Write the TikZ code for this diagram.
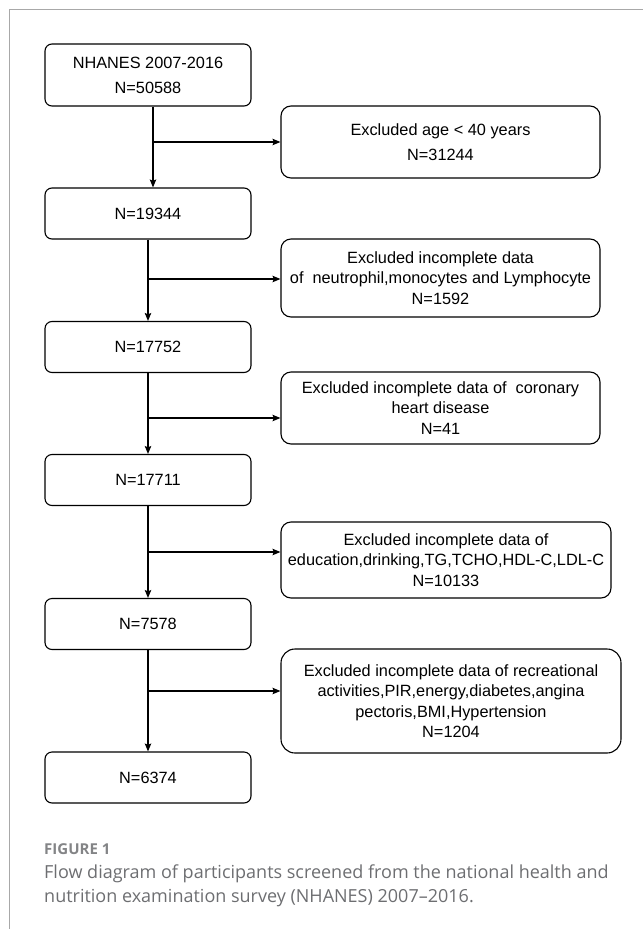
\documentclass[tikz,border=0pt]{standalone}
\usepackage{fontspec}
\setmainfont{Liberation Sans}
\newfontfamily\capfont{Open Sans}
\usetikzlibrary{arrows.meta}

\definecolor{capgray}{HTML}{6D6E71}
\definecolor{framegray}{HTML}{A8A8A8}

\begin{document}
\begin{tikzpicture}[x=1pt, y=1pt,
    box/.style={draw, line width=1.1pt, rounded corners=7pt, align=center, inner sep=0pt,
        font=\fontsize{16.3}{20.5}\selectfont},
    mainbox/.style={box, minimum width=206pt, minimum height=51pt},
    exclbox/.style={box, rounded corners=10pt},
    arrow/.style={-{Stealth[length=8pt, width=6.5pt, inset=1.5pt]}, line width=1.1pt}
]

    % Page size and frame
    \useasboundingbox (0,0) rectangle (643,-929);
    \draw[framegray, line width=1pt] (9,-929) -- (9,-9) -- (643,-9);

    % Main column
    \node[mainbox, minimum height=62pt, font=\fontsize{16.3}{25}\selectfont] (b0) at (148,-75) {NHANES 2007-2016\\N=50588};
    \node[mainbox] (b1) at (148,-213.5) {N=19344};
    \node[mainbox] (b2) at (148,-347) {N=17752};
    \node[mainbox] (b3) at (148,-480) {N=17711};
    \node[mainbox] (b4) at (148,-624) {N=7578};
    \node[mainbox] (b5) at (148,-777.5) {N=6374};

    % Exclusion boxes
    \node[exclbox, minimum width=319pt, minimum height=72pt, font=\fontsize{16.3}{25}\selectfont] (e1) at (440.5,-142)
        {Excluded age < 40 years\\N=31244};
    \node[exclbox, minimum width=319pt, minimum height=78pt] (e2) at (440.5,-278)
        {Excluded incomplete data\\of~ neutrophil,monocytes and Lymphocyte\\N=1592};
    \node[exclbox, minimum width=319pt, minimum height=72pt] (e3) at (440.5,-408)
        {Excluded incomplete data of~ coronary\\heart disease\\N=41};
    \node[exclbox, minimum width=330pt, minimum height=76pt] (e4) at (446,-560)
        {Excluded incomplete data of\\education,drinking,TG,TCHO,HDL-C,LDL-C\\N=10133};
    \node[exclbox, rounded corners=14pt, minimum width=340pt, minimum height=104pt] (e5) at (451,-701)
        {Excluded incomplete data of recreational\\activities,PIR,energy,diabetes,angina\\pectoris,BMI,Hypertension\\N=1204};

    % Branch points
    \coordinate (s1) at (153,-142);
    \coordinate (s2) at (148,-279);
    \coordinate (s3) at (148,-418);
    \coordinate (s4) at (148,-552);
    \coordinate (s5) at (148,-691);

    % Arrows down
    \draw[arrow] ([xshift=5pt]b0.south) -- ([xshift=5pt]b1.north);
    \draw[arrow] (b1) -- (b2);
    \draw[arrow] (b2) -- (b3);
    \draw[arrow] (b3) -- (b4);
    \draw[arrow] (b4) -- (b5);

    % Arrows to the right
    \draw[arrow] (s1) -- (s1 -| e1.west);
    \draw[arrow] (s2) -- (s2 -| e2.west);
    \draw[arrow] (s3) -- (s3 -| e3.west);
    \draw[arrow] (s4) -- (s4 -| e4.west);
    \draw[arrow] (s5) -- (s5 -| e5.west);

    % Caption
    \node[anchor=base west, inner sep=0pt, text=capgray!85, font=\capfont\bfseries\fontsize{15}{18}\selectfont] (figlabel) at (44,-854) {FIGURE 1};
    \node[anchor=base west, inner sep=0pt, text=capgray, font=\capfont\fontsize{18}{24}\selectfont] (cap1) at (44,-878)
        {Flow diagram of participants screened from the national health and};
    \node[anchor=base west, inner sep=0pt, text=capgray, font=\capfont\fontsize{18}{24}\selectfont] (cap2) at (44,-902)
        {nutrition examination survey (NHANES) 2007–2016.};

\end{tikzpicture}
\end{document}
